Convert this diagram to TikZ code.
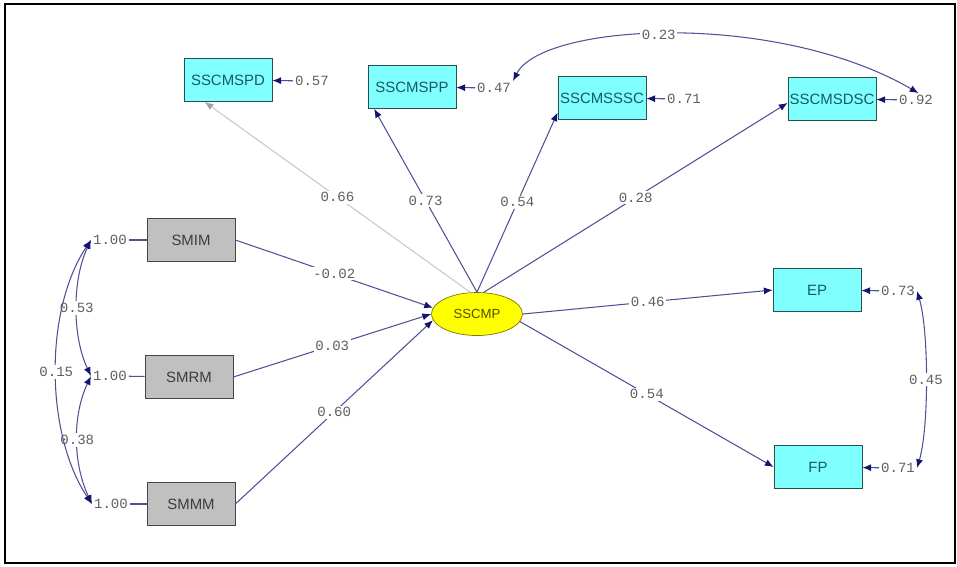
\documentclass[tikz,border=0pt]{standalone}
\usepackage{fontspec}
\setmainfont{Liberation Sans}
\newfontfamily\numfont{Liberation Mono}
\usepackage{tikz}
\usetikzlibrary{arrows.meta,shapes.geometric}

\definecolor{boxcyan}{RGB}{128,255,255}
\definecolor{boxline}{RGB}{40,80,80}
\definecolor{cyantext}{RGB}{20,90,100}
\definecolor{boxgrey}{RGB}{192,192,192}
\definecolor{greyline}{RGB}{70,70,70}
\definecolor{greytext}{RGB}{60,60,60}
\definecolor{latyellow}{RGB}{255,255,0}
\definecolor{latline}{RGB}{120,120,0}
\definecolor{lattext}{RGB}{80,80,0}
\definecolor{navline}{RGB}{80,80,150}
\definecolor{navtip}{RGB}{20,20,110}
\definecolor{paleline}{RGB}{200,200,200}
\definecolor{numtext}{RGB}{95,95,95}

\begin{document}
\begin{tikzpicture}[x=0.02cm,y=-0.02cm,
    obs/.style={rectangle,draw=boxline,fill=boxcyan,text=cyantext,minimum width=1.76cm,
        minimum height=0.86cm,inner xsep=0.5pt,font=\fontsize{8.5}{9}\selectfont},
    inp/.style={obs,fill=boxgrey,draw=greyline,text=greytext},
    lat/.style={ellipse,draw=latline,fill=latyellow,text=lattext,minimum width=1.82cm,
        minimum height=0.86cm,inner sep=0pt,font=\fontsize{7.5}{8}\selectfont},
    val/.style={text=numtext,font=\numfont\fontsize{8}{9}\selectfont,inner sep=1pt},
    coef/.style={val,fill=white,midway},
    pth/.style={draw=navline,line width=0.6pt,-{Latex[length=5pt,width=4pt,color=navtip]}},
    err/.style={pth},
    cov/.style={draw=navline,line width=0.6pt,
        {Latex[length=5pt,width=4pt,color=navtip]}-{Latex[length=5pt,width=4pt,color=navtip]}}]
    \useasboundingbox (0,0) rectangle (957,566);
    \draw[line width=1pt] (5,4) rectangle (955,563);

    \node[obs] at (228,80) (spd) {SSCMSPD};
    \node[obs] at (412,87) (spp) {SSCMSPP};
    \node[obs] at (602,98) (ssc) {SSCMSSSC};
    \node[obs] at (832,99) (sdsc) {SSCMSDSC};
    \node[inp] at (191,240) (smim) {SMIM};
    \node[inp] at (189,377) (smrm) {SMRM};
    \node[inp] at (191,504) (smmm) {SMMM};
    \node[lat] at (477,314) (sscmp) {SSCMP\hspace{12pt}};
    \node[obs] at (817,290) (ep) {EP};
    \node[obs] at (818,467) (fp) {FP};

    % error values
    \node[val] at (312,81) (espd) {0.57};
    \node[val] at (494,88) (espp) {0.47};
    \node[val] at (684,99) (essc) {0.71};
    \node[val] at (916,100) (esdsc) {0.92};
    \node[val] at (110,240) (esmim) {1.00};
    \node[val] at (110,376) (esmrm) {1.00};
    \node[val] at (111,504) (esmmm) {1.00};
    \node[val] at (898,291) (eep) {0.73};
    \node[val] at (898,468) (efp) {0.71};

    \draw[pth,draw=paleline,-{Latex[length=5pt,width=4pt,color=paleline!80!black]}] (sscmp.107) -- node[coef] {0.66} (spd.223);
    \draw[pth] (sscmp.north) -- node[coef] {0.73} (spp.210);
    \draw[pth] (sscmp.north) -- node[coef] {0.54} (ssc.198);
    \draw[pth] (sscmp.73) -- node[coef] {0.28} (sdsc.185);
    \draw[pth] (sscmp.east) -- node[coef] {0.46} (ep.west);
    \draw[pth] (sscmp.-10) -- node[coef] {0.54} (fp.west);
    \draw[pth] (smim.east) -- node[coef] {-0.02} (sscmp.172);
    \draw[pth] (smrm.east) -- node[coef] {0.03} (sscmp.180);
    \draw[pth] (smmm.east) -- node[coef] {0.60} (sscmp.188);

    \draw[err] (espd) -- (spd);
    \draw[err] (espp) -- (spp);
    \draw[err] (essc) -- (ssc);
    \draw[err] (esdsc) -- (sdsc);
    \draw[err] (eep) -- (ep);
    \draw[err] (efp) -- (fp);
    \draw[draw=navline,line width=0.6pt] (esmim) -- (smim);
    \draw[draw=navline,line width=0.6pt] (esmrm) -- (smrm);
    \draw[draw=navline,line width=0.6pt] (esmmm) -- (smmm);

    % covariances
    \draw[cov] (espp.north east) .. controls +(29,-58) and +(-143,-83) .. node[coef,pos=0.47] {0.23} (esdsc.70);
    \draw[cov] (esmim.west) .. controls +(-19,40) and +(-19,-40) .. node[coef] {0.53} (esmrm.west);
    \draw[cov] (esmrm.west) .. controls +(-19,40) and +(-19,-40) .. node[coef] {0.38} (esmmm.west);
    \draw[cov] (esmim.west) .. controls +(-47,70) and +(-47,-70) .. node[coef] {0.15} (esmmm.west);
    \draw[cov] (eep.east) .. controls +(12,40) and +(12,-40) .. node[coef] {0.45} (efp.east);
\end{tikzpicture}
\end{document}
